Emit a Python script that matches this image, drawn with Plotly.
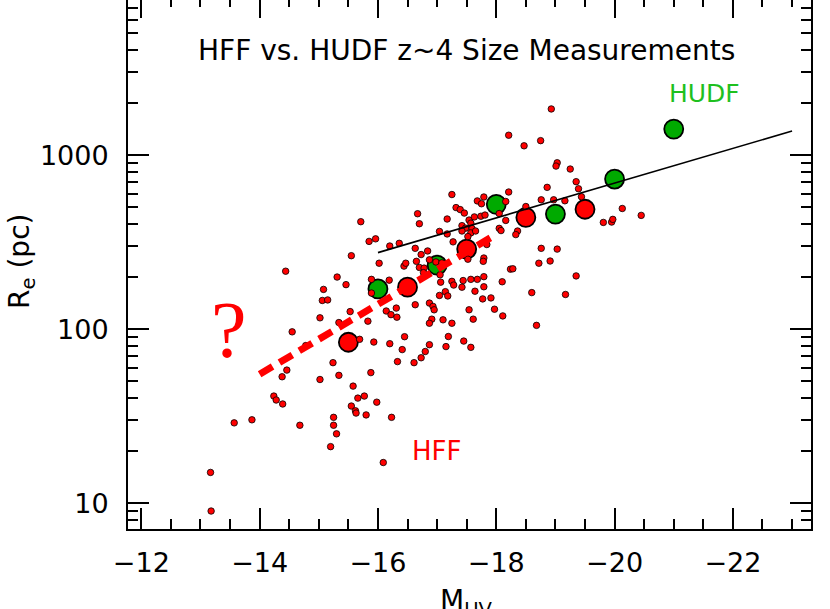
import plotly.graph_objects as go

# individual HFF galaxies (M_UV, R_e in pc)
HFF_M = [-18.93, -18.21, -18.47, -18.75, -19.03, -19.01, -19.25, -19.35, -19.39, -19.44,
         -18.86, -18.21, -18.76, -18.97, -19.16, -17.25, -17.68, -17.75, -17.79, -18.16,
         -17.32, -17.39, -17.46, -20.13, -18.50, -17.17, -17.54, -17.57, -17.59, -17.42,
         -17.48, -17.42, -17.63, -17.57, -17.52, -17.65, -17.74, -17.81, -18.05, -18.16,
         -18.05, -18.08, -18.36, -18.33, -19.81, -19.95, -19.97, -20.45, -18.76, -19.03,
         -18.72, -18.91, -19.35, -19.17, -18.60, -18.68, -18.24, -18.28, -18.10, -17.79,
         -17.68, -17.57, -17.44, -17.79, -17.64, -17.25, -17.28, -17.42, -17.06, -17.14,
         -17.18, -17.04, -17.91, -17.77, -17.97, -18.11, -17.54, -17.61, -17.25, -17.10,
         -16.87, -16.93, -16.95, -16.91, -16.87, -16.63, -16.31, -16.14, -16.22, -16.32,
         -15.83, -16.45, -16.20, -15.93, -16.41, -16.33, -16.61, -16.73, -16.80, -16.87,
         -17.15, -17.19, -17.45, -17.57, -15.24, -15.34, -15.88, -15.69, -15.53, -15.34,
         -15.02, -14.78, -15.31, -15.46, -15.08, -15.06, -15.15, -15.55, -15.85, -15.96,
         -16.20, -16.36, -16.02, -15.89, -15.89, -16.19, -16.44, -16.47, -16.65, -16.73,
         -16.84, -16.63, -16.70, -16.78, -16.77, -16.87, -16.98, -17.08, -15.71, -16.67,
         -16.70, -17.04, -17.17, -17.27, -17.84, -17.52, -17.79, -17.78, -14.44, -14.55,
         -15.02, -15.58, -15.66, -15.77, -15.98, -15.55, -15.62, -15.63, -15.80, -16.23,
         -15.25, -15.25, -15.30, -15.20, -16.09, -14.46, -14.38, -14.24, -14.28, -14.39,
         -13.57, -13.87, -14.68, -13.17, -13.18, -17.05]
HFF_RE = [1840, 1300, 1130, 1210, 903, 864, 831, 703, 640, 576,
          652, 613, 553, 553, 546, 593, 545, 525, 574, 541,
          499, 486, 464, 493, 506, 429, 423, 406, 378, 393,
          380, 366, 441, 357, 340, 366, 445, 452, 461, 421,
          379, 368, 366, 349, 410, 412, 427, 450, 291, 288,
          239, 246, 202, 158, 162, 105, 221, 222, 187, 200,
          193, 193, 190, 175, 165, 188, 179, 174, 186, 164,
          155, 156, 151, 149, 130, 119, 129, 114, 108, 113,
          141, 135, 129, 114, 108, 138, 132, 127, 121, 117,
          111, 90.4, 82.4, 84.2, 76.2, 65.0, 64.1, 68.4, 74.3, 81.3,
          79.3, 90.6, 85.3, 78.5, 64.1, 54.2, 56.2, 87.3, 126, 109,
          116, 80.4, 199, 180, 169, 146, 147, 264, 319, 330,
          300, 311, 239, 193, 161, 191, 230, 239, 245, 268,
          281, 291, 226, 224, 211, 250, 243, 240, 414, 460,
          403, 364, 352, 317, 306, 252, 256, 245, 215, 96.4,
          51.3, 47.0, 40.1, 41.2, 38.0, 36.1, 33.9, 32.9, 32.1, 31.1,
          31.1, 28.0, 25.0, 21.1, 17.1, 58.1, 53.2, 41.2, 39.1, 37.1,
          28.9, 30.1, 28.0, 15.0, 9.0, 205]

# binned medians
HFF_BIN_M = [-15.5, -16.5, -17.5, -18.5, -19.5]
HFF_BIN_RE = [84, 174, 288, 438, 488]
HUDF_BIN_M = [-16, -17, -18, -19, -20, -21]
HUDF_BIN_RE = [170, 233, 521, 458, 728, 1410]

# size-luminosity relations
HUDF_FIT_M = [-16, -23]
HUDF_FIT_RE = [275, 1375]
HFF_FIT_M = [-14, -18]
HFF_FIT_RE = [55, 350]

X_TICKS = [-12, -14, -16, -18, -20, -22]
X_TICK_TEXT = ['\u221212', '\u221214', '\u221216', '\u221218', '\u221220', '\u221222']
X_MINOR = [-12.5, -13, -13.5, -14.5, -15, -15.5, -16.5, -17, -17.5,
           -18.5, -19, -19.5, -20.5, -21, -21.5, -22.5, -23]
Y_TICKS = [10, 100, 1000]
Y_TICK_TEXT = ['10', '100', '1000']
Y_MINOR = [8, 9, 20, 30, 40, 50, 60, 70, 80, 90,
           200, 300, 400, 500, 600, 700, 800, 900, 2000, 3000, 4000, 5000, 6000, 7000]

X_RANGE = [-11.775, -23.32]
Y_RANGE = [0.851, 3.891]

RED = '#ff0000'
GREEN = '#00aa00'
FONT = 'DejaVu Sans'

fig = go.Figure()

fig.add_trace(go.Scatter(
    x=HFF_BIN_M, y=HFF_BIN_RE, mode='markers',
    marker=dict(size=19, color=RED, line=dict(color='black', width=1.8)),
))
fig.add_trace(go.Scatter(
    x=HUDF_BIN_M, y=HUDF_BIN_RE, mode='markers',
    marker=dict(size=19, color=GREEN, line=dict(color='black', width=1.8)),
))
fig.add_trace(go.Scatter(
    x=HFF_M, y=HFF_RE, mode='markers',
    marker=dict(size=6.5, color=RED, line=dict(color='black', width=0.8)),
))
fig.add_trace(go.Scatter(
    x=HUDF_FIT_M, y=HUDF_FIT_RE, mode='lines',
    line=dict(color='black', width=1.6),
))
fig.add_trace(go.Scatter(
    x=HFF_FIT_M, y=HFF_FIT_RE, mode='lines',
    line=dict(color=RED, width=7, dash='15px,8px'),
))
# dummy traces so the mirrored top / right axes get drawn
fig.add_trace(go.Scatter(x=[None], y=[None], xaxis='x2', yaxis='y', hoverinfo='skip'))
fig.add_trace(go.Scatter(x=[None], y=[None], xaxis='x', yaxis='y2', hoverinfo='skip'))

x_common = dict(
    range=X_RANGE, tickvals=X_TICKS, ticktext=X_TICK_TEXT,
    ticks='inside', tickwidth=2, tickcolor='black',
    showgrid=False, zeroline=False,
)
x_minor = dict(tickvals=X_MINOR, ticks='inside', tickwidth=1.5,
               tickcolor='black', showgrid=False)
y_common = dict(
    type='log', range=Y_RANGE, tickvals=Y_TICKS, ticktext=Y_TICK_TEXT,
    ticks='inside', ticklen=21, tickwidth=2, tickcolor='black',
    showgrid=False, zeroline=False,
    minor=dict(tickvals=Y_MINOR, ticks='inside', ticklen=10, tickwidth=1.5,
               tickcolor='black', showgrid=False),
)

fig.update_layout(
    width=830, height=609,
    margin=dict(l=128, r=19, t=0, b=80),
    plot_bgcolor='white', paper_bgcolor='white',
    showlegend=False,
    font=dict(family=FONT, size=27, color='black'),
    xaxis=dict(**x_common, ticklen=21, minor=dict(**x_minor, ticklen=10),
               showline=True, linewidth=2, linecolor='black',
               ticklabelstandoff=9),
    # top frame sits just above the page edge in the original, so only the tick stubs show
    xaxis2=dict(**x_common, ticklen=18, minor=dict(**x_minor, ticklen=7),
                overlaying='x', side='top', showline=False,
                showticklabels=False),
    yaxis=dict(**y_common, showline=True, linewidth=2, linecolor='black',
               ticklabelstandoff=12),
    yaxis2=dict(**y_common, overlaying='y', side='right', showline=True,
                linewidth=2, linecolor='black', showticklabels=False),
)

annotations = [
    dict(text='HFF vs. HUDF z~4 Size Measurements', x=0.496, y=0.905,
         font=dict(size=28, color='black')),
    dict(text='HUDF', x=0.844, y=0.823, font=dict(size=25, color='#1ec01e')),
    dict(text='HFF', x=0.451, y=0.147, font=dict(size=26, color=RED)),
    dict(text='?', x=0.148, y=0.376,
         font=dict(size=80, color=RED, family='Liberation Serif')),
    dict(text='R<sub>e</sub> (pc)', x=-0.155, y=0.505, textangle=-90,
         font=dict(size=28, color='black')),
    dict(text='M<sub>UV</sub>', x=0.496, y=-0.1, yanchor='top',
         font=dict(size=28, color='black')),
]
for a in annotations:
    a.setdefault('yanchor', 'middle')
    fig.add_annotation(xref='paper', yref='paper', xanchor='center',
                       showarrow=False, **a)

fig.write_html("out.html", config={'displayModeBar': False},
               post_script="document.body.style.margin = '0px';")
